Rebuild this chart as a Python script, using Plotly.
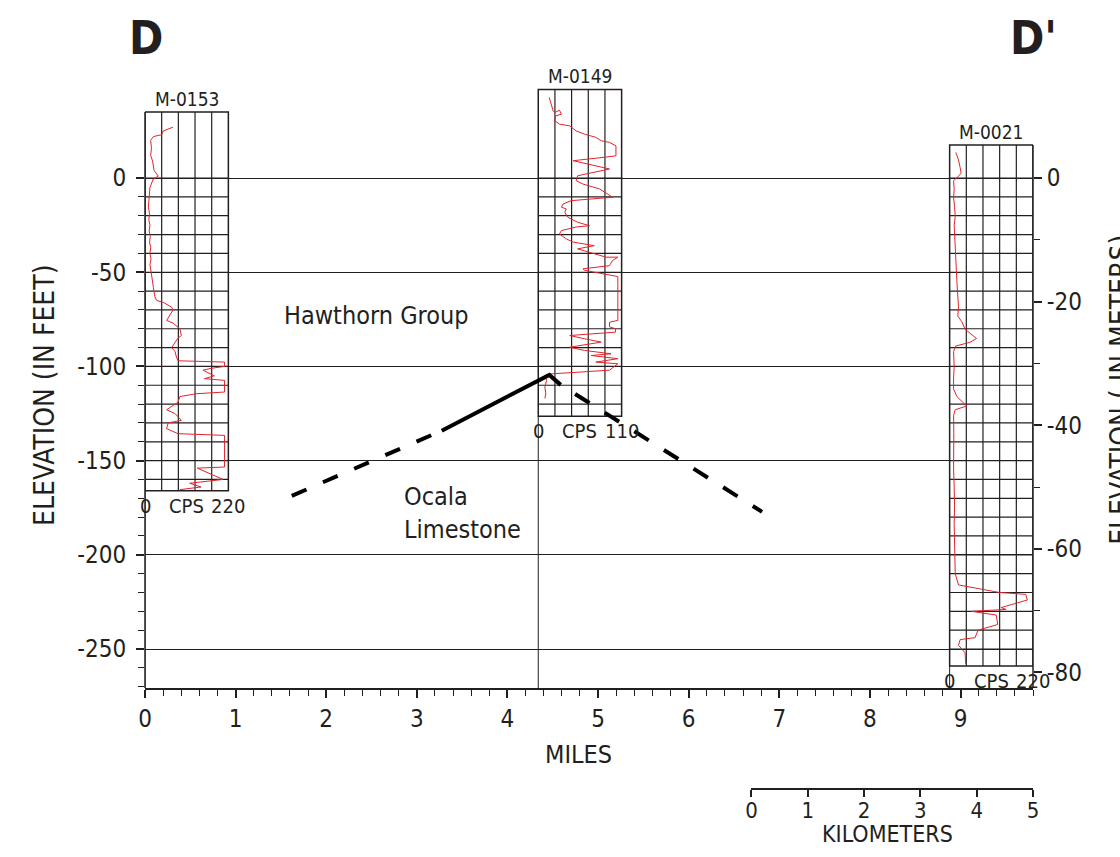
import plotly.graph_objects as go

# ---------------- data ----------------
WELL_NAMES = ["M-0153", "M-0149", "M-0021"]
WELL_MILES = [0.0, 4.34, 8.88]          # well location along section
WELL_TOP_FT = [35.0, 47.0, 17.6]        # top of logged interval (ft)
WELL_BOTTOM_FT = [-166.0, -126.5, -259.0]
WELL_CPS_MAX = [220, 110, 220]          # full-scale gamma counts per second

# natural gamma logs: elevation (ft) and counts per second
M0153_FT = [27, 25, 23, 22, 20, 16, 12, 9, 4, 1, -0.5, -5, -10, -15.5, -19, -22, -25, -28,
            -31, -34, -37, -40, -43, -46, -51, -55, -58, -63, -65, -66, -68.5, -70, -75.6,
            -77, -80, -83.6, -85, -90, -92, -95, -97, -97.7, -100, -101, -102, -105, -106.5,
            -107.4, -113.6, -114.5, -116, -119, -123, -125, -128.6, -130, -133, -135.7,
            -136.6, -153.4, -154, -160, -162, -164, -165.4]
M0153_CPS = [74, 48, 44, 22, 15, 17, 15, 20, 24, 35, 22, 13, 11, 9, 12, 10, 13, 11,
             14, 12, 15, 13, 16, 13, 17, 19, 22, 26, 31, 48, 70, 74, 57,
             74, 92, 96, 87, 70, 79, 83, 87, 210, 210, 175, 153, 183, 157,
             210, 210, 135, 92, 87, 57, 79, 96, 61, 57, 87,
             210, 210, 138, 206, 118, 148, 92]

M0149_FT = [42.8, 39.2, 35.7, 34.8, 36, 33.9, 33, 30.4, 28.6, 27.7, 25, 23.3, 21.6, 19.8,
            18.9, 17.1, 11.8, 11, 9.2, 4.8, 1.2, -1.4, -3.2, -5.8, -10.2, -12, -13.8, -15.5,
            -16.4, -18.2, -20.8, -23.5, -25.3, -26, -27.9, -29.7, -32.3, -34, -35.9, -37.6,
            -40.3, -42, -42, -43.8, -46.5, -48.2, -49, -52.3, -75.6, -76.5, -79, -80, -81.8,
            -83.6, -85.3, -87.1, -89.8, -91.5, -93.3, -94.2, -95.9, -97.7, -98.6, -102,
            -104, -104.8, -107.4, -111, -114.5, -117]
M0149_CPS = [14.4, 17.5, 19.6, 21.8, 28, 30.6, 23, 21.8, 28, 41.5, 50, 61, 76, 83,
             94, 102.5, 102.5, 87, 46, 94, 52, 50, 59, 81, 98, 43.6, 32.7, 30.6,
             37, 35, 39, 52, 67.7, 50, 30.6, 28, 37, 46, 74, 52,
             76, 89.5, 105, 98, 94, 59, 61, 105, 105, 94, 94, 102, 102,
             41.5, 61, 83, 41.5, 61, 96, 70, 105, 76, 105, 94,
             15.3, 8.7, 11, 8.7, 10, 8.7]

M0021_FT = [13.6, 9.6, 5.6, 2.6, 0.6, -1.4, -6, -10.4, -15, -20.4, -25, -30.3, -37, -44.3,
            -50, -54.3, -61, -68.3, -73.3, -76.2, -80.2, -85.2, -87.2, -89.2, -92.2, -100,
            -106, -112, -116, -120, -121, -123, -126, -135, -145, -154, -164, -174, -184,
            -194, -202, -210, -216, -219, -220, -221, -224, -228, -229, -230, -232, -237,
            -240, -244, -245, -248, -252, -258]
M0021_CPS = [16.5, 23.4, 27.7, 30.3, 21.6, 10.4, 12, 10.4, 13, 14.7, 12, 13, 15, 16.5,
             18, 19, 21, 23.4, 21.6, 32, 40.7, 71, 53.7, 15.6, 10.4, 12,
             10.4, 10.4, 19, 40.7, 45, 14.7, 10.4, 11, 10, 10.4, 12, 13, 12,
             13, 14, 14.7, 23.4, 105.7, 131.6, 201, 205, 136, 149, 58, 123, 127,
             75, 67, 27.7, 23.4, 40.7, 42.5]

WELL_LOG_FT = [M0153_FT, M0149_FT, M0021_FT]
WELL_LOG_CPS = [M0153_CPS, M0149_CPS, M0021_CPS]

# Hawthorn Group / Ocala Limestone contact (miles, ft)
CONTACT_WEST_MILES = [1.62, 3.275]
CONTACT_WEST_FT = [-168.7, -134.1]
CONTACT_MID_MILES = [3.275, 4.462, 4.588]
CONTACT_MID_FT = [-134.1, -104.5, -109.8]
CONTACT_EAST_MILES = [4.588, 6.81]
CONTACT_EAST_FT = [-109.8, -177.2]

MILE_TICKS = [0, 1, 2, 3, 4, 5, 6, 7, 8, 9]
FEET_TICKS = [0, -50, -100, -150, -200, -250]
FEET_LABELS = ["0", "-50", "-100", "-150", "-200", "-250"]
METER_TICKS = [0, -20, -40, -60, -80]
METER_LABELS = ["0", "-20", "-40", "-60", "-80"]
METER_MINOR = [-10, -30, -50, -70]
KM_TICKS = [0, 1, 2, 3, 4, 5]

# ---------------- styling ----------------
FONT = "Liberation Sans Narrow, Arial Narrow, DejaVu Sans Condensed, Roboto Condensed, sans-serif"
INK = "#231f20"
LOG_RED = "#e3242b"
BOX_W = 0.92                 # width of a log panel in miles
X_RANGE = [0, 9.8]
Y_RANGE = [-270.7, 60]
FT_TO_M = 0.3048
KM_PER_MILE = 1.609344

fig = go.Figure()

shapes = []
annotations = []


def label(text, x, y, size, xref="paper", yref="paper", **kw):
    d = dict(xref=xref, yref=yref, x=x, y=y, text=text, showarrow=False,
             xanchor="center", yanchor="middle",
             font=dict(family=FONT, size=size, color=INK))
    d.update(kw)
    annotations.append(d)


for name, x0, top, bot, cmax, lft, lcps in zip(WELL_NAMES, WELL_MILES, WELL_TOP_FT,
                                              WELL_BOTTOM_FT, WELL_CPS_MAX,
                                              WELL_LOG_FT, WELL_LOG_CPS):
    x1 = x0 + BOX_W
    # panel outline
    shapes.append(dict(type="rect", xref="x", yref="y", x0=x0, x1=x1, y0=bot, y1=top,
                       line=dict(color=INK, width=1.5), layer="below"))
    # vertical count divisions
    for k in range(1, 5):
        xv = x0 + BOX_W * k / 5
        shapes.append(dict(type="line", xref="x", yref="y", x0=xv, x1=xv, y0=bot, y1=top,
                           line=dict(color=INK, width=1.2), layer="below"))
    # 10-ft depth divisions
    ft = 0
    while ft > bot:
        shapes.append(dict(type="line", xref="x", yref="y", x0=x0, x1=x1, y0=ft, y1=ft,
                           line=dict(color=INK, width=1.2), layer="below"))
        ft -= 10
    # well location line down to the base of the section
    shapes.append(dict(type="line", xref="x", yref="y", x0=x0, x1=x0, y0=Y_RANGE[0], y1=bot,
                       line=dict(color=INK, width=1), layer="below"))
    # gamma log
    fig.add_trace(go.Scatter(
        x=[x0 + c / cmax * BOX_W for c in lcps], y=lft, mode="lines",
        line=dict(color=LOG_RED, width=1), showlegend=False, hoverinfo="skip"))
    # well name
    label(name, x0 + BOX_W / 2, top, 19, xref="x", yref="y", yanchor="bottom")
    # scale labels under the panel
    for frac, txt in zip([0, 0.5, 1], ["0", "CPS", str(cmax)]):
        label(txt, x0 + BOX_W * frac, bot, 20, xref="x", yref="y", yanchor="top", yshift=-1)

# axis lines (left and right) drawn up to the panel tops
shapes.append(dict(type="line", xref="paper", yref="y", x0=0, x1=0, y0=Y_RANGE[0],
                   y1=WELL_TOP_FT[0], line=dict(color=INK, width=1.5)))
shapes.append(dict(type="line", xref="paper", yref="y", x0=1, x1=1, y0=Y_RANGE[0],
                   y1=WELL_TOP_FT[2], line=dict(color=INK, width=1.5)))

# formation contact
fig.add_trace(go.Scatter(x=CONTACT_WEST_MILES, y=CONTACT_WEST_FT, mode="lines",
                         line=dict(color="black", width=4, dash="16px,18px"),
                         showlegend=False, hoverinfo="skip"))
fig.add_trace(go.Scatter(x=CONTACT_MID_MILES, y=CONTACT_MID_FT, mode="lines",
                         line=dict(color="black", width=4),
                         showlegend=False, hoverinfo="skip"))
fig.add_trace(go.Scatter(x=CONTACT_EAST_MILES, y=CONTACT_EAST_FT, mode="lines",
                         line=dict(color="black", width=4, dash="0px,17px,17px,1px"),
                         showlegend=False, hoverinfo="skip"))

# placeholders so the secondary axes are drawn
fig.add_trace(go.Scatter(x=[None], y=[None], xaxis="x", yaxis="y2", showlegend=False,
                         hoverinfo="skip"))
fig.add_trace(go.Scatter(x=[None], y=[None], xaxis="x2", yaxis="y3", showlegend=False,
                         hoverinfo="skip"))

# formation names
label("Hawthorn Group", 1.509, -73.2, 25, xref="x", yref="y", xanchor="left")
label("Ocala<br>Limestone", 2.833, -177.8, 25, xref="x", yref="y", xanchor="left",
      align="left")

# section end labels
label("<b>D</b>", 0.01, 1.0374, 46, xref="x")
label("<b>D'</b>", 9.8, 1.0374, 46, xref="x")

# axis titles
label("ELEVATION (IN FEET)", 0, 0.5497, 28, xshift=-100, textangle=-90)
label("ELEVATION ( IN METERS)", 1, 0.558, 28, xshift=88, textangle=-90)
label("MILES", 0.488, 0.0625, 25)
label("KILOMETERS", 0.8365, -0.0465, 23)

tickfont = dict(family=FONT, size=24, color=INK)
y_dom = [0.15238, 1.0]

fig.update_layout(
    width=1120, height=857,
    margin=dict(l=145, r=87, t=65, b=57),
    paper_bgcolor="white", plot_bgcolor="white",
    shapes=shapes, annotations=annotations,
    xaxis=dict(range=X_RANGE, domain=[0, 1], anchor="y",
               tickvals=MILE_TICKS, ticks="outside", ticklen=8, tickwidth=1.5,
               tickcolor=INK, showline=True, linecolor=INK, linewidth=1.5,
               showgrid=False, zeroline=False, tickfont=tickfont,
               minor=dict(dtick=0.2, tick0=0, ticks="outside", ticklen=6,
                          tickwidth=1, tickcolor=INK, showgrid=False)),
    yaxis=dict(range=Y_RANGE, domain=y_dom, anchor="x",
               tickvals=FEET_TICKS, ticktext=FEET_LABELS, ticks="outside", ticklen=8,
               tickwidth=1.5, tickcolor=INK, showline=False, showgrid=True, gridcolor=INK,
               gridwidth=1, zeroline=False, tickfont=tickfont, ticklabelstandoff=5,
               minor=dict(tickvals=[v for v in range(-10, -271, -10) if v % 50],
                          ticks="outside", ticklen=6, tickwidth=1, tickcolor=INK,
                          showgrid=False)),
    yaxis2=dict(range=[Y_RANGE[0] * FT_TO_M, Y_RANGE[1] * FT_TO_M], domain=y_dom,
                overlaying="y", side="right", anchor="x",
                tickvals=METER_TICKS, ticktext=METER_LABELS, ticks="outside", ticklen=8,
                tickwidth=1.5, tickcolor=INK, showline=False, showgrid=False,
                zeroline=False, tickfont=tickfont, ticklabelstandoff=0,
                minor=dict(tickvals=METER_MINOR, ticks="outside", ticklen=6,
                           tickwidth=1, tickcolor=INK, showgrid=False)),
    xaxis2=dict(range=[0, 5], domain=[1 - (5 / KM_PER_MILE) / X_RANGE[1], 1], anchor="y3",
                tickvals=KM_TICKS, ticks="outside", ticklen=7, tickwidth=1.5,
                tickcolor=INK, showline=True, linecolor=INK, linewidth=1.5,
                showgrid=False, zeroline=False, ticklabelstandoff=-5,
                tickfont=dict(family=FONT, size=22, color=INK)),
    yaxis3=dict(domain=[0.0163, 0.03], visible=False, range=[0, 1]),
)

fig.write_html("out.html")
